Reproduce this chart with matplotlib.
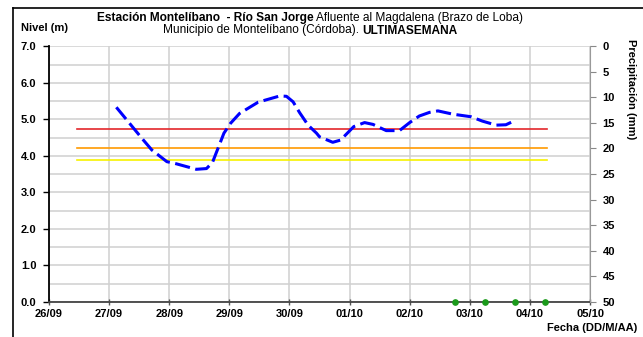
import matplotlib.pyplot as plt
from matplotlib.lines import Line2D

plt.rcParams['font.family'] = ['Liberation Sans', 'DejaVu Sans']

# fechas del eje x (un tick por dia)
day_labels = ['26/09', '27/09', '28/09', '29/09', '30/09',
              '01/10', '02/10', '03/10', '04/10', '05/10']

# nivel del rio (dias desde 26/09, metros)
level_days = [1.12, 1.56, 1.71, 1.96, 2.12, 2.45, 2.62, 2.72,
              2.91, 3.02, 3.17, 3.48, 3.84, 3.95, 4.06, 4.17, 4.31, 4.45,
              4.50, 4.72, 4.85, 5.07, 5.25, 5.39, 5.61, 5.83, 6.00, 6.16,
              6.33, 6.47, 6.72, 7.02, 7.21, 7.44, 7.60, 7.77]
level_m = [5.33, 4.45, 4.16, 3.84, 3.78, 3.63, 3.65, 3.82,
           4.62, 4.89, 5.16, 5.47, 5.64, 5.63, 5.48, 5.18, 4.84, 4.62,
           4.52, 4.37, 4.43, 4.80, 4.91, 4.86, 4.69, 4.69, 4.91, 5.09,
           5.19, 5.23, 5.14, 5.07, 4.95, 4.84, 4.85, 4.98]

# niveles de alerta
alert_span = [0.46, 8.29]
alert_levels = [4.73, 4.21, 3.89]
alert_colors = ['#e3262b', '#ff9a00', '#f7f200']

# registros de precipitacion
precip_days = [6.75, 7.25, 7.75, 8.25]
precip_level = [0.0, 0.0, 0.0, 0.0]

fig = plt.figure(figsize=(6.43, 3.37), dpi=100)
ax = fig.add_axes([0.0762, 0.1045, 0.8414, 0.7581])

ax.set_xlim(0, 9)
ax.set_ylim(0, 7)
ax.set_yticks([i * 1.0 for i in range(8)])
ax.set_yticks([i + 0.5 for i in range(7)], minor=True)
ax.set_yticklabels(['%.1f' % v for v in range(8)], fontsize=8, fontweight='bold')
ax.set_xticks(range(10))
ax.set_xticklabels(day_labels, fontsize=8, fontweight='bold')

ax.grid(True, which='both', color='#d0d0d0', lw=1.1)
ax.set_axisbelow(True)
ax.tick_params(axis='y', which='major', direction='out', length=4, width=1, pad=5)
ax.tick_params(axis='y', which='minor', length=0)
ax.tick_params(axis='x', direction='inout', length=5, width=1, pad=3, color='#555555')

for s in ['top', 'right']:
    ax.spines[s].set_visible(False)
ax.spines['left'].set_linewidth(1.3)
ax.spines['bottom'].set_color('#444444')
ax.spines['bottom'].set_linewidth(1.3)

for lvl, c in zip(alert_levels, alert_colors):
    ax.plot(alert_span, [lvl, lvl], color=c, lw=1.2)

ax.plot(level_days, level_m, color='#0000ff', lw=2.2,
        linestyle=(0, (5, 1.8)), solid_capstyle='butt')

ax.plot(precip_days, precip_level, 'o', color='#1a9a1a', ms=3.8, clip_on=False, zorder=5)

# eje de precipitacion (invertido)
ax2 = ax.twinx()
ax2.set_ylim(50, 0)
ax2.set_yticks(range(0, 55, 5))
ax2.set_yticklabels([str(v) for v in range(0, 55, 5)], fontsize=8, fontweight='bold')
ax2.tick_params(axis='y', direction='out', length=4, color='#888888', pad=5)
for s in ['top', 'left', 'bottom']:
    ax2.spines[s].set_visible(False)
ax2.spines['right'].set_color('#999999')

fig.text(21 / 643, 1 - 28 / 337, 'Nivel (m)', fontsize=8, fontweight='bold', va='center')
fig.text(631 / 643, 1 - 39 / 337, 'Precipitación (mm)', fontsize=8, fontweight='bold',
         rotation=-90, ha='center', va='top')
fig.text(637 / 643, 1 - 328 / 337, 'Fecha (DD/M/AA)', fontsize=8, fontweight='bold',
         ha='right', va='center')


def rich_line(parts, y, xc):
    # texto con tramos en negrita y normal, centrado en xc
    texts = [fig.text(0, y, s, fontsize=8.6, fontweight=w, va='center') for s, w in parts]
    fig.canvas.draw()
    r = fig.canvas.get_renderer()
    widths = [t.get_window_extent(r).width for t in texts]
    W = fig.bbox.width
    x = xc * W - sum(widths) / 2
    for t, w in zip(texts, widths):
        t.set_x(x / W)
        x += w


rich_line([('Estación Montelíbano  - Río San Jorge ', 'bold'),
           ('Afluente al Magdalena (Brazo de Loba)', 'normal')],
          1 - 18 / 337, 310 / 643)
rich_line([('Municipio de Montelíbano (Córdoba). ', 'normal'),
           ('ULTIMASEMANA', 'bold')],
          1 - 30.5 / 337, 310 / 643)

# marco exterior
fig.add_artist(Line2D([13 / 643, 13 / 643], [0, 1 - 8 / 337], color='black', lw=1.2))
fig.add_artist(Line2D([13 / 643, 1], [1 - 8 / 337, 1 - 8 / 337], color='black', lw=1.2))

fig.savefig('out.png', dpi=100)
